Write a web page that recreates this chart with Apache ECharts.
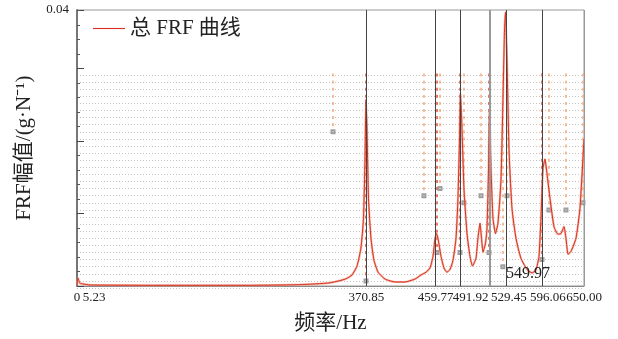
<!DOCTYPE html>
<html>
<head>
<meta charset="utf-8">
<script src="https://cdn.jsdelivr.net/npm/echarts@6/dist/echarts.min.js"></script>
<style>html,body{margin:0;padding:0;background:#fff}#c{width:618px;height:339px}</style>
</head>
<body>
<div id="c"></div>
<script>
// ---- data ----
const freqHz = [0,1.3,2.6,3.8,7.7,16.7,93.6,222,286,324,344,352.6,359,364,367.3,369.2,370.5,371.8,373.7,376.9,380.8,386,394.9,407.7,420.5,433.3,441,447.4,452.5,456.4,459,460.9,462.8,466.7,470.5,474.3,478.2,482,485.9,488.4,490.4,491.6,493.6,496.1,500,503.8,507,511.5,514,516.7,518.6,520.5,523.7,525.6,527.6,528.8,530.8,533.3,536.5,539.7,543.6,546.1,548.1,549.4,551.3,553.8,557.7,562.8,569.2,576.9,583.3,588.4,592.3,594.8,597.4,600,602.5,606.4,611.5,616.6,620.5,624.4,626.9,629.5,633.3,639.7,644.8,650];
const frfAmp = [0.00014,0.00115,0.0007,0.0004,0.0003,0.00015,0.0001,0.0001,0.0002,0.00045,0.001,0.0016,0.0029,0.0055,0.0098,0.0184,0.027,0.0227,0.0127,0.0069,0.0037,0.002,0.001,0.00058,0.00058,0.001,0.0016,0.002,0.0026,0.0043,0.0069,0.0076,0.0069,0.0043,0.0026,0.002,0.0024,0.0037,0.0069,0.0127,0.0213,0.028,0.0227,0.0141,0.0076,0.0043,0.0029,0.004,0.0069,0.0091,0.0069,0.0049,0.0062,0.0083,0.017,0.0256,0.017,0.0098,0.0076,0.0091,0.0155,0.027,0.0371,0.0397,0.0328,0.0199,0.0112,0.0069,0.004,0.0024,0.0019,0.0023,0.0043,0.0098,0.017,0.0184,0.0163,0.0127,0.0086,0.0075,0.0076,0.0086,0.0069,0.0046,0.005,0.0069,0.0112,0.0213];
const peakFreqs = [370.85, 459.77, 491.92, 529.45, 549.97, 596.06, 650];
const tickValues = [0, 5.23, 370.85, 459.77, 491.92, 529.45, 596.06, 650];
const tickLabels = ['0', '5.23', '370.85', '459.77', '491.92', '529.45', '596.06', '650.00'];
const annotFreq = 549.97;
const annotLabel = '549.97';
// stabilization columns: frequency, lowest stable model order, kind (1 = stable, 0 = freq only)
const stabFreqs = [328.2, 370.5, 444.8, 461.5, 465.4, 491.0, 496.1, 518.0, 528.2, 546.0, 551.3, 596.1, 605.1, 626.9, 648.7];
const stabLowOrder = [22, 1, 13, 5, 14, 5, 12, 13, 5, 3, 13, 4, 11, 11, 12];
const stabKind = [0, 1, 0, 1, 0, 1, 0, 0, 1, 0, 0, 1, 0, 0, 0];
const maxOrder = 30;
const yMax = 0.04;

// ---- styling ----
const serif = "'Liberation Serif','Noto Sans CJK SC',serif";
const nudge = {'5.23': 13, '491.92': 10, '529.45': 19, '596.06': 6};

const lineData = freqHz.map((f, i) => [f, frfAmp[i]]);
const stabRed = [], stabOrange = [], stabEnds = [];
stabFreqs.forEach((f, i) => {
  for (let k = stabLowOrder[i]; k <= maxOrder; k++) {
    (stabKind[i] ? stabRed : stabOrange).push([f, k]);
  }
  stabEnds.push([f, stabLowOrder[i]]);
});

const rich = {};
Object.keys(nudge).forEach((k, i) => {
  rich['n' + i] = {padding: [0, 0, 0, 2 * nudge[k]], fontFamily: serif, fontSize: 13, color: '#222'};
});

const chart = echarts.init(document.getElementById('c'));
chart.setOption({
  animation: false,
  grid: [
    {left: 77, right: 34, top: 10, bottom: 51, show: true, borderColor: '#999', borderWidth: 1},
    {left: 77, right: 34, top: 75, bottom: 51}
  ],
  legend: {
    data: [{name: '总 FRF 曲线', icon: 'path://M0,0L34,0L34,1.2L0,1.2Z'}],
    left: 88, top: 13, itemWidth: 32, itemHeight: 1.2, itemGap: 6,
    textStyle: {fontFamily: serif, fontSize: 21, color: '#222'}
  },
  xAxis: [
    {
      gridIndex: 0, type: 'value', min: 0, max: 650,
      name: '频率/Hz', nameLocation: 'middle', nameGap: 27,
      nameTextStyle: {fontFamily: serif, fontSize: 21, color: '#222'},
      axisLine: {lineStyle: {color: '#888', width: 1}},
      axisTick: {show: false},
      splitLine: {show: false},
      axisLabel: {
        customValues: tickValues, margin: 5,
        fontFamily: serif, fontSize: 13, color: '#222', rich: rich,
        formatter: function (v) {
          let idx = tickValues.findIndex(t => Math.abs(t - v) < 1e-6);
          const s = idx >= 0 ? tickLabels[idx] : '';
          const keys = Object.keys(nudge);
          const ni = keys.indexOf(s);
          return ni >= 0 ? '{n' + ni + '|' + s + '}' : s;
        }
      }
    },
    {gridIndex: 1, type: 'value', min: 0, max: 650, show: false}
  ],
  yAxis: [
    {
      gridIndex: 0, type: 'value', min: 0, max: yMax, interval: 0.0105,
      name: 'FRF幅值/(g·N⁻¹)', nameLocation: 'middle', nameGap: 38, nameRotate: 90,
      nameTextStyle: {fontFamily: serif, fontSize: 21, color: '#222'},
      axisLine: {show: true, lineStyle: {color: '#777', width: 2}},
      axisTick: {show: true, inside: true, length: 7, lineStyle: {color: '#444'}},
      minorTick: {show: true, splitNumber: 5, length: 3, lineStyle: {color: '#555'}},
      splitLine: {show: false},
      axisLabel: {
        fontFamily: serif, fontSize: 13, color: '#222', margin: 8,
        formatter: v => (Math.abs(v - yMax) < 1e-9 ? '0.04' : '')
      }
    },
    {
      gridIndex: 1, type: 'value', min: 0, max: maxOrder, interval: 1,
      axisLine: {show: false}, axisTick: {show: false}, axisLabel: {show: false},
      splitLine: {show: true, lineStyle: {color: '#c4c4c4', type: [1, 2], width: 1}}
    }
  ],
  series: [
    {
      name: 'stab-f', type: 'scatter', xAxisIndex: 1, yAxisIndex: 1,
      data: stabOrange, symbol: 'rect', symbolSize: [2, 3], silent: true,
      itemStyle: {color: '#f5a878', opacity: 0.75}, z: 1
    },
    {
      name: 'stab-s', type: 'scatter', xAxisIndex: 1, yAxisIndex: 1,
      data: stabRed, symbol: 'rect', symbolSize: [2, 3], silent: true,
      itemStyle: {color: '#e0503a', opacity: 0.75}, z: 1
    },
    {
      name: 'stab-end', type: 'scatter', xAxisIndex: 1, yAxisIndex: 1,
      data: stabEnds, symbol: 'emptyRect', symbolSize: 3, silent: true,
      itemStyle: {color: '#888', borderColor: '#888'}, z: 1
    },
    {
      name: 'FRF-shadow', type: 'line', xAxisIndex: 0, yAxisIndex: 0,
      data: lineData, symbol: 'none', smooth: 0.15, silent: true,
      lineStyle: {color: '#f19a85', width: 2.2, opacity: 0.7}, z: 2
    },
    {
      name: '总 FRF 曲线', type: 'line', xAxisIndex: 0, yAxisIndex: 0,
      data: lineData, symbol: 'none', smooth: 0.15,
      lineStyle: {color: '#d8301f', width: 1},
      itemStyle: {color: '#d8301f'},
      z: 3,
      markLine: {
        silent: true, symbol: 'none', label: {show: false},
        data: peakFreqs.map(f => ({
          xAxis: f,
          lineStyle: {color: (f === 529.45 || f === 650) ? '#999' : '#444', width: f === 529.45 ? 2 : 1, type: 'solid'}
        }))
      },
      markPoint: {
        symbol: 'circle', symbolSize: 0, silent: true,
        data: [{coord: [annotFreq, 0.0017], value: annotLabel}],
        label: {show: true, position: 'right', distance: 0, formatter: annotLabel,
                fontFamily: serif, fontSize: 16, color: '#222'}
      }
    }
  ]
});
</script>
</body>
</html>
